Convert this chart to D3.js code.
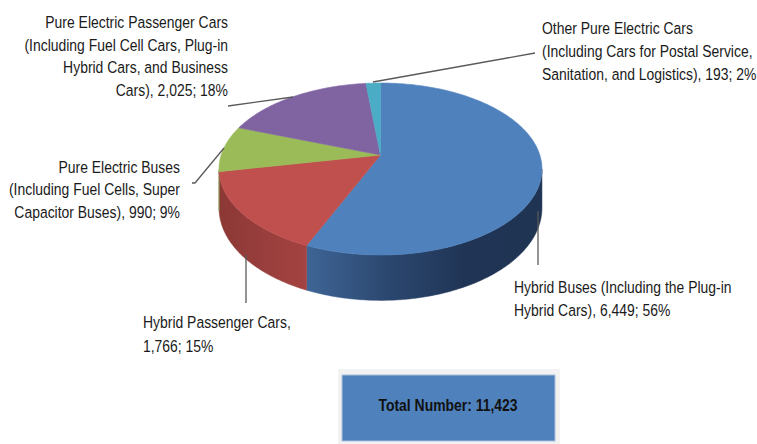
<!DOCTYPE html>
<html>
<head>
<meta charset="utf-8">
<script src="https://cdn.jsdelivr.net/npm/d3@7"></script>
<style>
  body { margin: 0; background: #fff; }
  text { font-family: "Liberation Sans", Arial, sans-serif; fill: #1a1a1a; }
</style>
</head>
<body>
<div id="chart"></div>
<script>
const width = 757
const height = 444

// DATA
const categories = [
  "Hybrid Buses (Including the Plug-in\nHybrid Cars)",
  "Hybrid Passenger Cars",
  "Pure Electric Buses\n(Including Fuel Cells, Super\nCapacitor Buses)",
  "Pure Electric Passenger Cars\n(Including Fuel Cell Cars, Plug-in\nHybrid Cars, and Business\nCars)",
  "Other Pure Electric Cars\n(Including Cars for Postal Service,\nSanitation, and Logistics)"
]
const values = [6449, 1766, 990, 2025, 193]
const totalLabel = "Total Number:"

const topColors = ["#4f81bd", "#c0504d", "#9bbb59", "#8064a2", "#4bacc6"]
const sideStops = [
  ["#3e6596", "#2c4870", "#203556", "#1f3352"],
  ["#a44341", "#983e3c", "#8c3835"],
  ["#7f9a48", "#6f8a3e"],
  ["#67508a", "#5a467a"],
  ["#3c8da3", "#327c90"]
]

// label layout: anchor, x, first baseline y, line step, value on own line, leader points
const labelLayout = [
  { anchor: "start", x: 514, y: 293, dy: 23, newLine: false, leader: [[538, 211], [538, 265]] },
  { anchor: "start", x: 143, y: 328, dy: 24, newLine: true, leader: [[246, 255], [246, 303]] },
  { anchor: "end", x: 180, y: 173, dy: 22.5, newLine: false, leader: [[224, 148], [195, 183], [192, 183]] },
  { anchor: "end", x: 228, y: 28, dy: 22.7, newLine: false, leader: [[293, 97], [228, 106]] },
  { anchor: "start", x: 542, y: 34, dy: 23, newLine: false, leader: [[373, 82], [535, 53]] }
]

// pie geometry (perspective view of a tilted disc)
const cx = 380.5
const cy = 155
const sx = 159.3
const sy = 83.7
const k = 0.163
const depth = 38
const narrow = 0.82

const svg = d3
  .select("#chart")
  .append("svg")
  .attr("width", width)
  .attr("height", height)
  .attr("viewBox", [0, 0, width, height])

const total = d3.sum(values)
const fmt = d3.format(",")

const pie = d3.pie().sort(null).startAngle(0).endAngle(2 * Math.PI)
const arcs = pie(values)

// project angle on the disc rim to screen (off = 1 gives the bottom rim)
const project = (a, off = 0) => {
  const X = Math.sin(a)
  const Z = Math.cos(a)
  const w = 1 + k * Z
  return [cx + (sx * X) / w, cy - (sy * Z) / w + (off * depth) / w]
}
const rim = (a0, a1, off) => {
  const n = Math.max(2, Math.ceil(((a1 - a0) * 180) / Math.PI))
  return d3.range(n + 1).map((j) => project(a0 + ((a1 - a0) * j) / n, off))
}
const line = d3.line()

// visible wall runs between the silhouette angles
const wallStart = Math.acos(-k)
const wallEnd = 2 * Math.PI - Math.acos(-k)

// GRADIENTS for the side walls
const defs = svg.append("defs")
arcs.forEach((d, i) => {
  const s0 = Math.max(d.startAngle, wallStart)
  const s1 = Math.min(d.endAngle, wallEnd)
  const xs = [project(s0)[0], project(s1)[0]]
  const g = defs
    .append("linearGradient")
    .attr("id", "side-" + i)
    .attr("gradientUnits", "userSpaceOnUse")
    .attr("x1", i === 0 ? d3.min(xs) : d3.max(xs))
    .attr("x2", i === 0 ? d3.max(xs) : d3.min(xs))
    .attr("y1", 0)
    .attr("y2", 0)
  const stops = sideStops[i]
  stops.forEach((c, j) => {
    g.append("stop")
      .attr("offset", j / (stops.length - 1))
      .attr("stop-color", c)
  })
})

// SIDE WALLS
const sides = svg.append("g").attr("class", "sides")
arcs.forEach((d, i) => {
  const s0 = Math.max(d.startAngle, wallStart)
  const s1 = Math.min(d.endAngle, wallEnd)
  if (s1 <= s0) return
  const pts = rim(s0, s1, 0).concat(rim(s0, s1, 1).reverse())
  sides
    .append("path")
    .attr("d", line(pts) + "Z")
    .attr("fill", `url(#side-${i})`)
    .attr("stroke", `url(#side-${i})`)
    .attr("stroke-width", 0.5)
})

// TOP FACE
svg
  .append("g")
  .attr("class", "tops")
  .selectAll("path")
  .data(arcs)
  .join("path")
  .attr("d", (d) => line([[cx, cy]].concat(rim(d.startAngle, d.endAngle, 0))) + "Z")
  .attr("fill", (d, i) => topColors[i])
  .attr("stroke", (d, i) => topColors[i])
  .attr("stroke-width", 0.6)

// LEADER LINES
svg
  .append("g")
  .selectAll("polyline")
  .data(labelLayout)
  .join("polyline")
  .attr("points", (d) => d.leader.map((p) => p.join(",")).join(" "))
  .attr("fill", "none")
  .attr("stroke", "#5a5a5a")
  .attr("stroke-width", 1.3)

// LABELS
const labels = svg.append("g").attr("class", "labels")
arcs.forEach((d, i) => {
  const lay = labelLayout[i]
  const pct = Math.round((d.value / total) * 100) + "%"
  const tail = fmt(d.value) + "; " + pct
  const text = lay.newLine ? categories[i] + ",\n" + tail : categories[i] + ", " + tail
  const t = labels
    .append("text")
    .attr("text-anchor", lay.anchor)
    .attr("transform", `translate(${lay.x},0) scale(${narrow},1)`)
    .style("font-size", "17px")
  text.split("\n").forEach((l, j) => {
    t.append("tspan")
      .attr("x", 0)
      .attr("y", lay.y + j * lay.dy)
      .text(l)
  })
})

// TOTAL BOX
const box = svg.append("g").attr("class", "total")
box
  .append("rect")
  .attr("x", 338)
  .attr("y", 369)
  .attr("width", 222)
  .attr("height", 75)
  .attr("fill", "#f2f2f2")
box
  .append("rect")
  .attr("x", 342)
  .attr("y", 375)
  .attr("width", 213)
  .attr("height", 66)
  .attr("fill", "#4f81bd")
  .attr("stroke", "#a9bfdc")
  .attr("stroke-width", 1)
box
  .append("text")
  .attr("text-anchor", "middle")
  .attr("transform", `translate(448,0) scale(${narrow},1)`)
  .attr("y", 411)
  .style("font-size", "17px")
  .style("font-weight", "bold")
  .style("fill", "#111")
  .text(totalLabel + "  " + fmt(total))
</script>
</body>
</html>
